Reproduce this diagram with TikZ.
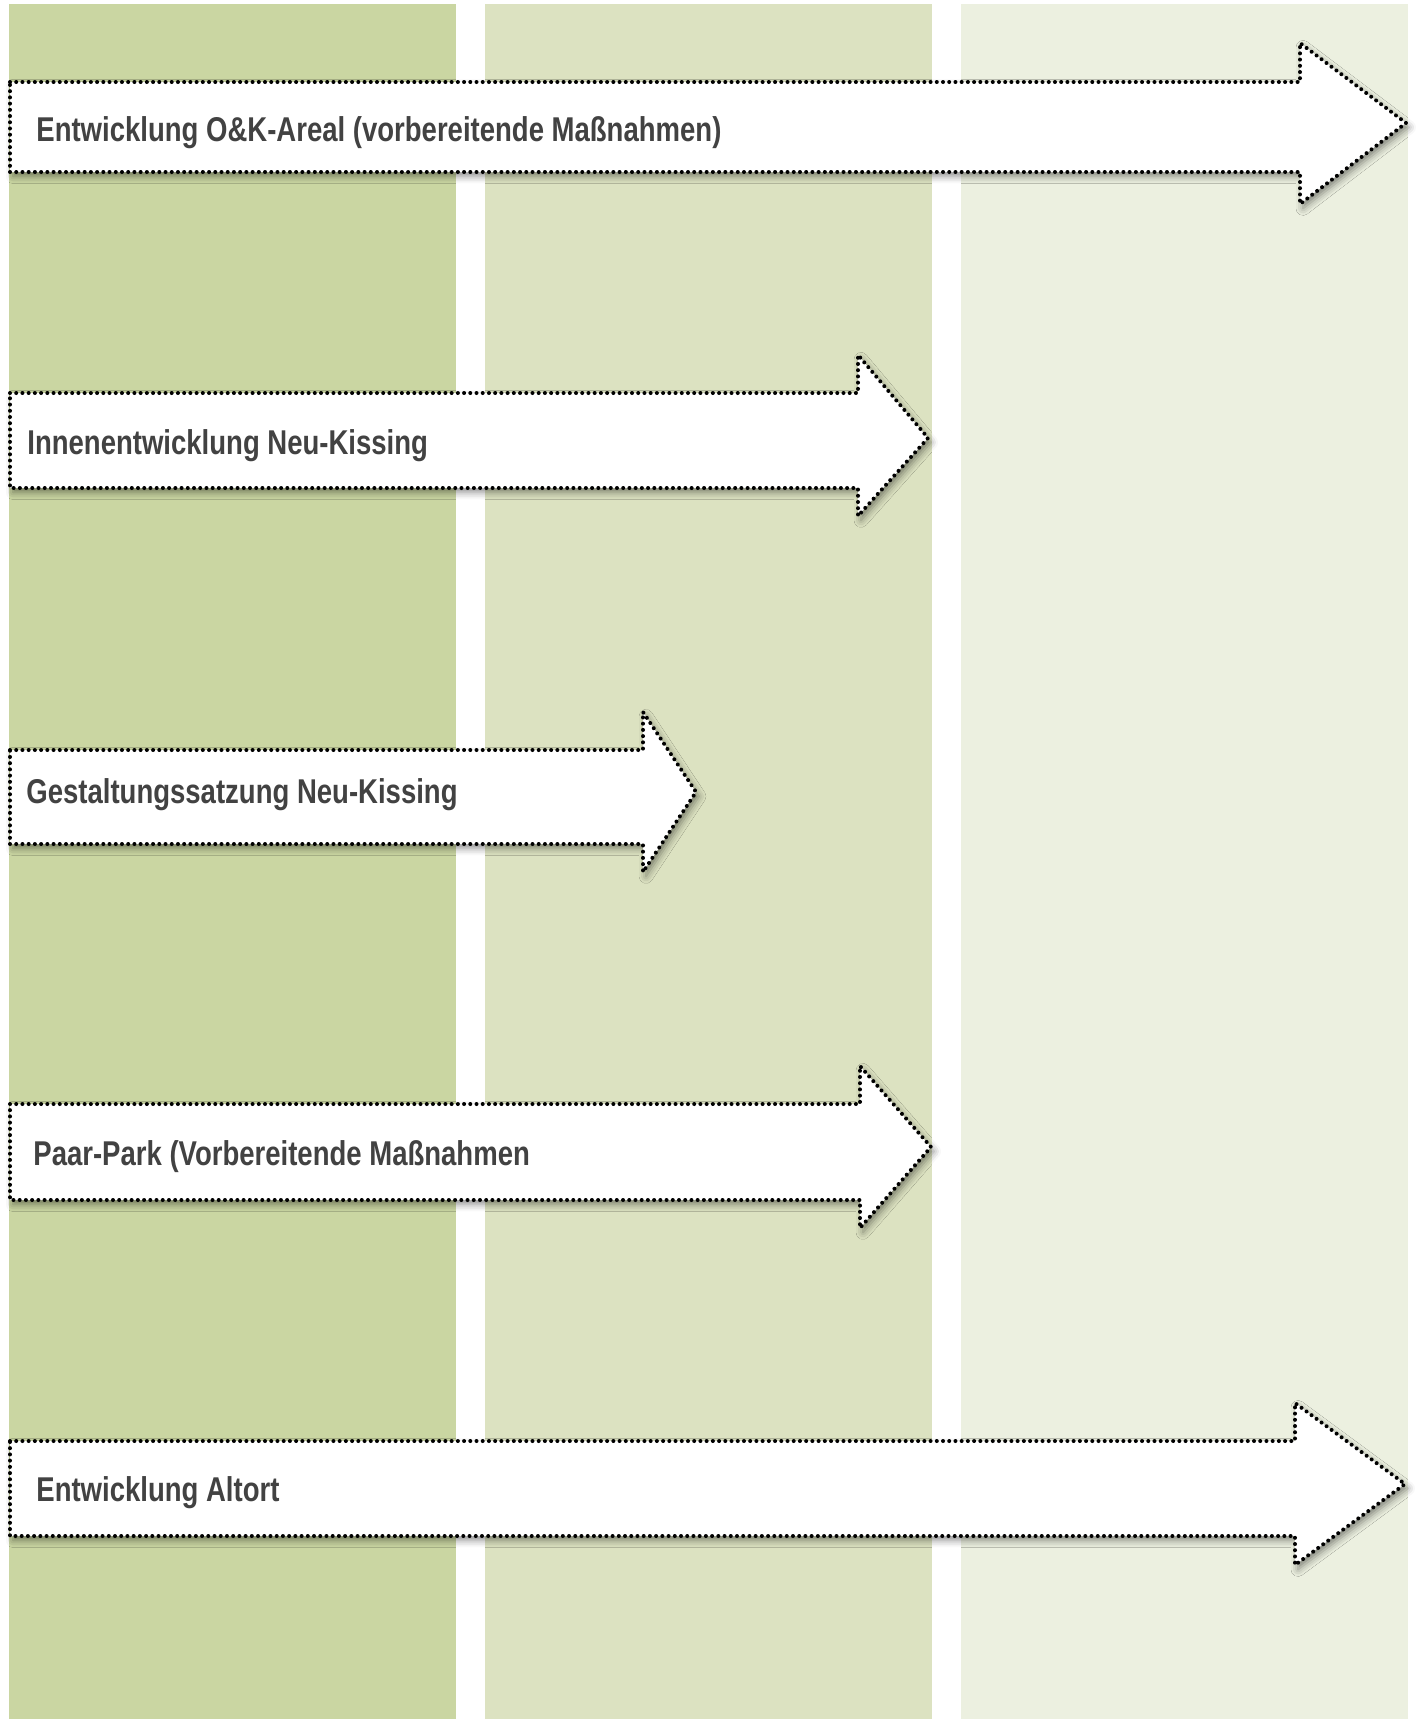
\documentclass[tikz,border=0pt]{standalone}
\usepackage{fontspec}
\setmainfont{Liberation Sans}[FakeStretch=0.8]
\usepackage{xcolor}
\usepackage{tikz}
\usetikzlibrary{shadows.blur}

\definecolor{spalteA}{RGB}{202,214,162}
\definecolor{spalteB}{RGB}{220,226,193}
\definecolor{spalteC}{RGB}{236,240,224}
\definecolor{textgrau}{RGB}{66,66,66}

\begin{document}
\begin{tikzpicture}[x = 0.5pt, y = -0.5pt,
 pfeil/.style = {draw = black, fill = white, line width = 2pt,
   dash pattern = on 0.01pt off 3.1pt, line cap = round, line join = round,
   blur shadow = {shadow xshift = 1.5pt, shadow yshift = -2.2pt,
   shadow blur radius = 3.5pt, shadow opacity = 45}},
 titel/.style = {anchor = base west, inner sep = 0pt, text = textgrau,
   font = \bfseries\fontsize{17.2}{20}\selectfont}]

\useasboundingbox (0,0) rectangle (1418,1719);

\fill[spalteA] (9,4) rectangle (456,1719);
\fill[spalteB] (485,4) rectangle (932,1719);
\fill[spalteC] (961,4) rectangle (1408,1719);

\draw[pfeil] (10,82) -- (1300,82) -- (1300,43) -- (1406,123)
  -- (1300,204) -- (1300,172) -- (10,172) -- cycle;
\node[titel] (Areal) at (36,141) {Entwicklung O\&K-Areal (vorbereitende Maßnahmen)};

\draw[pfeil] (10,393) -- (858,393) -- (858,355) -- (928,438)
  -- (858,516) -- (858,488) -- (10,488) -- cycle;
\node[titel] (Innen) at (27,454) {Innenentwicklung Neu-Kissing};

\draw[pfeil] (10,750) -- (643,750) -- (643,712) -- (696,792)
  -- (643,872) -- (643,844) -- (10,844) -- cycle;
\node[titel] (Satzung) at (26,803) {Gestaltungssatzung Neu-Kissing};

\draw[pfeil] (10,1104) -- (860,1104) -- (860,1066) -- (931,1147)
  -- (860,1228) -- (860,1200) -- (10,1200) -- cycle;
\node[titel] (Park) at (33,1165) {Paar-Park (Vorbereitende Maßnahmen};

\draw[pfeil] (10,1441) -- (1295,1441) -- (1295,1403) -- (1405,1484)
  -- (1295,1565) -- (1295,1536) -- (10,1536) -- cycle;
\node[titel] (Altort) at (36,1501) {Entwicklung Altort};

\end{tikzpicture}
\end{document}
